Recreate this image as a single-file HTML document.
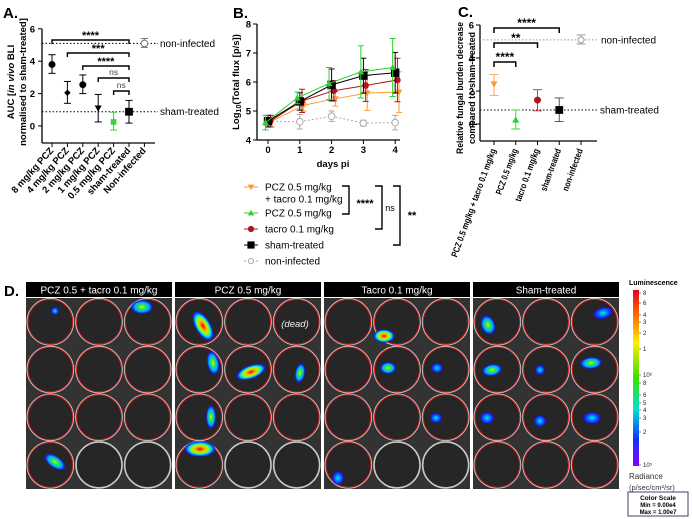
<!DOCTYPE html>
<html><head><meta charset="utf-8">
<style>
html,body{margin:0;padding:0;background:#fff;}
svg{display:block;font-family:"Liberation Sans",Arial,sans-serif;}
</style></head>
<body>
<svg id="fig" width="692" height="519" viewBox="0 0 692 519" xmlns="http://www.w3.org/2000/svg">
<defs>
<linearGradient id="cbar" x1="0" y1="0" x2="0" y2="1">
<stop offset="0" stop-color="#e8001a"/><stop offset="0.18" stop-color="#ff8a00"/><stop offset="0.3" stop-color="#ffee00"/><stop offset="0.5" stop-color="#3de000"/><stop offset="0.68" stop-color="#00e0d0"/><stop offset="0.85" stop-color="#1030ff"/><stop offset="1" stop-color="#8a00ff"/>
</linearGradient>
<radialGradient id="blobHot"><stop offset="0" stop-color="#e00010"/><stop offset="0.3" stop-color="#ffb000"/><stop offset="0.5" stop-color="#a0ff00"/><stop offset="0.7" stop-color="#00e0e0"/><stop offset="0.88" stop-color="#1020ff"/><stop offset="1" stop-color="#1020ff" stop-opacity="0"/></radialGradient>
<radialGradient id="blobMid"><stop offset="0" stop-color="#c0ff00"/><stop offset="0.35" stop-color="#20e060"/><stop offset="0.65" stop-color="#00b0ff"/><stop offset="0.88" stop-color="#1020ff"/><stop offset="1" stop-color="#1020ff" stop-opacity="0"/></radialGradient>
<radialGradient id="blobLow"><stop offset="0" stop-color="#00f0e0"/><stop offset="0.5" stop-color="#0070ff"/><stop offset="0.85" stop-color="#2010ff"/><stop offset="1" stop-color="#2010ff" stop-opacity="0"/></radialGradient>
</defs>

<text x="3" y="18" font-size="15" font-weight="bold">A.</text>
<text x="233" y="18" font-size="15" font-weight="bold">B.</text>
<text x="458" y="17" font-size="15" font-weight="bold">C.</text>
<text x="4" y="296" font-size="15" font-weight="bold">D.</text>

<text transform="translate(14,82) rotate(-90)" font-size="9.5" font-weight="bold" text-anchor="middle">AUC [<tspan font-style="italic">in vivo</tspan> BLI</text>
<text transform="translate(239,82) rotate(-90)" font-size="9.5" font-weight="bold" text-anchor="middle">Log<tspan font-size="7" dy="2">10</tspan><tspan dy="-2">(Total flux [p/s])</tspan></text>

<g id="gA"></g>
<g id="gB"></g>
<g id="gC"></g>
<g id="gD"></g>

<g>
<text x="629" y="285" font-size="7" font-weight="bold">Luminescence</text>
<rect x="633" y="290" width="6" height="176" fill="url(#cbar)"/>
<g id="cbticks" font-size="6" fill="#222"></g>
<text x="629" y="479" font-size="8" fill="#333">Radiance</text>
<text x="629" y="490" font-size="7.5" fill="#333">(p/sec/cm²/sr)</text>
<rect x="628" y="492" width="60" height="24" fill="#fff" stroke="#3a4a6a" stroke-width="1"/>
<text x="658" y="500" font-size="6.5" font-weight="bold" text-anchor="middle">Color Scale</text>
<text x="658" y="507" font-size="6" font-weight="bold" text-anchor="middle">Min = 9.00e4</text>
<text x="658" y="514" font-size="6" font-weight="bold" text-anchor="middle">Max = 1.00e7</text>
</g>

<script>
// ---------- Panel A data ----------
const catsA = ['8 mg/kg PCZ','4 mg/kg PCZ','2 mg/kg PCZ','1 mg/kg PCZ','0.5 mg/kg PCZ','sham-treated','Non-infected'];
const meanA = [3.8, 2.05, 2.55, 1.1, 0.25, 0.88, 5.1];
const lowA  = [3.25, 1.4, 2.0, 0.25, -0.25, 0.18, 4.85];
const highA = [4.4, 2.75, 3.15, 1.95, 0.85, 1.58, 5.4];
const ticksA = [0, 2, 4, 6];
const sigA = ['****','***','****','ns','ns'];
const sigAFrom = [0, 1, 2, 3, 4];

// ---------- Panel B data ----------
const daysB = [0, 1, 2, 3, 4];
const ticksBx = [0, 1, 2, 3, 4];
const ticksBy = [4, 5, 6, 7, 8];
const orangeMean = [4.65, 5.2, 5.42, 5.62, 5.65];
const orangeErr  = [0.2, 0.2, 0.25, 0.6, 0.7];
const greenMean  = [4.6, 5.45, 5.95, 6.35, 6.5];
const greenErr   = [0.25, 0.2, 0.55, 0.9, 1.0];
const redMean    = [4.65, 5.35, 5.7, 5.88, 6.07];
const redErr     = [0.2, 0.4, 0.35, 0.55, 0.75];
const blackMean  = [4.65, 5.33, 5.9, 6.22, 6.32];
const blackErr   = [0.2, 0.3, 0.55, 0.6, 0.7];
const greyMean   = [4.65, 4.63, 4.82, 4.58, 4.6];
const greyErr    = [0.2, 0.25, 0.18, 0.1, 0.25];

// ---------- Panel C data ----------
const catsC = ['PCZ 0.5 mg/kg + tacro 0.1 mg/kg','PCZ 0.5 mg/kg','tacro 0.1 mg/kg','sham-treated','non-infected'];
const meanC = [2.42, 0.25, 1.45, 0.85, 5.1];
const lowC  = [1.73, -0.3, 0.8, 0.15, 4.85];
const highC = [3.0, 0.85, 2.08, 1.58, 5.4];
const ticksC = [0, 2, 4, 6];
const sigC = ['****','**','****'];
const sigCTo = [3, 2, 1];

const NS = 'http://www.w3.org/2000/svg';
function mk(tag, attrs, parent){
  const e = document.createElementNS(NS, tag);
  for (const k in attrs) e.setAttribute(k, attrs[k]);
  parent.appendChild(e);
  return e;
}
function marker(g, shape, cx, cy, s, fill, stroke){
  let e;
  if (shape==='circle') e = mk('circle',{cx:cx,cy:cy,r:s,fill:fill,stroke:stroke,'stroke-width':1},g);
  else if (shape==='square') e = mk('rect',{x:cx-s,y:cy-s,width:2*s,height:2*s,fill:fill,stroke:stroke,'stroke-width':0.8},g);
  else if (shape==='down') e = mk('polygon',{points:`${cx-s},${cy-s*0.8} ${cx+s},${cy-s*0.8} ${cx},${cy+s}`,fill:fill,stroke:stroke,'stroke-width':0.6},g);
  else if (shape==='up') e = mk('polygon',{points:`${cx-s},${cy+s*0.8} ${cx+s},${cy+s*0.8} ${cx},${cy-s}`,fill:fill,stroke:stroke,'stroke-width':0.6},g);
  else if (shape==='diamond') e = mk('polygon',{points:`${cx},${cy-s} ${cx+s},${cy} ${cx},${cy+s} ${cx-s},${cy}`,fill:fill,stroke:stroke,'stroke-width':0.6},g);
  return e;
}
function errbar(g, x, y1, y2, col, cap){
  mk('line',{x1:x,y1:y1,x2:x,y2:y2,stroke:col,'stroke-width':1},g);
  mk('line',{x1:x-cap,y1:y1,x2:x+cap,y2:y1,stroke:col,'stroke-width':1},g);
  mk('line',{x1:x-cap,y1:y2,x2:x+cap,y2:y2,stroke:col,'stroke-width':1},g);
}

// ================= Panel A =================
(function(){
  const g = document.getElementById('gA');
  const yA = v => 126 - v*16.2;
  const xA = i => 52 + i*15.4;
  const ax = mk('line',{x1:42,y1:yA(6),x2:42,y2:143,stroke:'#000','stroke-width':1.3},g);
  
  
  const bx = mk('line',{x1:42,y1:143,x2:155,y2:143,stroke:'#000','stroke-width':1.3},g);
  
  
  ticksA.forEach(t=>{
    mk('line',{x1:38,y1:yA(t),x2:42,y2:yA(t),stroke:'#000','stroke-width':1},g);
    const tl = mk('text',{x:35,y:yA(t)+3.5,'font-size':9.5,'font-weight':'bold','text-anchor':'end'},g);
    tl.textContent = t;
    
    
  });
  const t2 = mk('text',{transform:'translate(26,82) rotate(-90)','font-size':9.5,'font-weight':'bold','text-anchor':'middle'},g);
  t2.textContent = 'normalised to sham-treated]';
  
  
  const r1 = mk('line',{x1:42,y1:yA(meanA[6]),x2:158,y2:yA(meanA[6]),stroke:'#000','stroke-width':1,'stroke-dasharray':'1.5,2'},g);
  
  
  const r2 = mk('line',{x1:42,y1:yA(meanA[5]),x2:158,y2:yA(meanA[5]),stroke:'#000','stroke-width':1,'stroke-dasharray':'1.5,2'},g);
  
  
  const l1 = mk('text',{x:160,y:yA(meanA[6])+3.5,'font-size':10},g);
  l1.textContent='non-infected';
  
  
  const l2 = mk('text',{x:160,y:yA(meanA[5])+3.5,'font-size':10},g);
  l2.textContent='sham-treated';
  
  
  const shapes = ['circle','diamond','circle','down','square','square','circle'];
  const sizes = [3,2.8,3,3,2.4,3.5,3.3];
  const cols = ['#000','#000','#000','#000','#3ccc3c','#000','#777'];
  catsA.forEach((c,i)=>{
    const x = xA(i);
    mk('line',{x1:x,y1:143,x2:x,y2:147,stroke:'#000','stroke-width':1},g);
    errbar(g, x, yA(lowA[i]), yA(highA[i]), cols[i], 3.5);
    const m = marker(g, shapes[i], x, yA(meanA[i]), sizes[i], i===6?'#fff':cols[i], cols[i]);
    
    
    const lab = mk('text',{x:x+2,y:151,'font-size':9.5,'font-weight':'bold','text-anchor':'end',transform:`rotate(-48 ${x+2} 151)`},g);
    lab.textContent = c;
    
    
  });
  const yTop = [40, 53, 66, 78, 91];
  sigA.forEach((s,k)=>{
    const x1 = xA(sigAFrom[k]), x2 = xA(5), y = yTop[k];
    const p = mk('path',{d:`M${x1},${y+4} V${y} H${x2} V${y+4}`,fill:'none',stroke:'#000','stroke-width':1.4},g);
    
    
    const st = mk('text',{x:(x1+x2)/2,y:s==='ns'?y-3:y-1,'font-size':s==='ns'?8.5:11,'font-weight':s==='ns'?'normal':'bold','text-anchor':'middle',fill:s==='ns'?'#444':'#000'},g);
    st.textContent = s;
    
    
  });
})();

// ================= Panel B =================
(function(){
  const g = document.getElementById('gB');
  const xB = d => 268 + d*31.8;
  const yB = v => 140 - (v-4)*29;
  const ay = mk('line',{x1:257,y1:yB(8),x2:257,y2:140,stroke:'#000','stroke-width':1.3},g);
  
  
  const axx = mk('line',{x1:257,y1:140,x2:400,y2:140,stroke:'#000','stroke-width':1.3},g);
  
  
  ticksBy.forEach(t=>{
    mk('line',{x1:253,y1:yB(t),x2:257,y2:yB(t),stroke:'#000','stroke-width':1},g);
    const tl = mk('text',{x:251,y:yB(t)+3.5,'font-size':9.5,'font-weight':'bold','text-anchor':'end'},g);
    tl.textContent=t;
    
    
  });
  ticksBx.forEach(t=>{
    mk('line',{x1:xB(t),y1:140,x2:xB(t),y2:144,stroke:'#000','stroke-width':1},g);
    const tl = mk('text',{x:xB(t),y:153,'font-size':9.5,'font-weight':'bold','text-anchor':'middle'},g);
    tl.textContent=t;
    
    
  });
  const xt = mk('text',{x:333,y:167,'font-size':9.5,'font-weight':'bold','text-anchor':'middle'},g);
  xt.textContent='days pi';
  
  

  const series = [
    {name:'grey', m:greyMean, e:greyErr, col:'#aaa', shape:'circle', fill:'#fff', s:3.3, off:0, dash:'2,2'},
    {name:'orange', m:orangeMean, e:orangeErr, col:'#ff9a30', shape:'down', fill:'#ff9a30', s:2.8, off:0.12, dash:''},
    {name:'red', m:redMean, e:redErr, col:'#b0141e', shape:'circle', fill:'#b0141e', s:2.8, off:0.07, dash:''},
    {name:'black', m:blackMean, e:blackErr, col:'#000', shape:'square', fill:'#000', s:3.8, off:0, dash:''},
    {name:'green', m:greenMean, e:greenErr, col:'#2ed02e', shape:'up', fill:'#2ed02e', s:2.8, off:-0.08, dash:''}
  ];
  series.forEach(sr=>{
    const pts = daysB.map((d,i)=>`${xB(d+sr.off)},${yB(sr.m[i])}`).join(' ');
    const pl = mk('polyline',{points:pts,fill:'none',stroke:sr.col,'stroke-width':1,'stroke-dasharray':sr.dash},g);
    
    
    daysB.forEach((d,i)=>{
      const x = xB(d+sr.off);
      errbar(g, x, yB(sr.m[i]-sr.e[i]), yB(sr.m[i]+sr.e[i]), sr.col, 3);
      const m = marker(g, sr.shape, x, yB(sr.m[i]), sr.s, sr.fill, sr.col);
      
      
    });
  });
  const leg = [
    {y:187, col:'#ff9a30', shape:'down', fill:'#ff9a30', lines:['PCZ 0.5 mg/kg','+ tacro 0.1 mg/kg'], dash:''},
    {y:213, col:'#2ed02e', shape:'up', fill:'#2ed02e', lines:['PCZ 0.5 mg/kg'], dash:''},
    {y:229, col:'#b0141e', shape:'circle', fill:'#b0141e', lines:['tacro 0.1 mg/kg'], dash:''},
    {y:245, col:'#000', shape:'square', fill:'#000', lines:['sham-treated'], dash:''},
    {y:261, col:'#aaa', shape:'circle', fill:'#fff', lines:['non-infected'], dash:'2,2'}
  ];
  leg.forEach(L=>{
    const ln = mk('line',{x1:244,y1:L.y,x2:258,y2:L.y,stroke:L.col,'stroke-width':1,'stroke-dasharray':L.dash},g);
    
    
    const m = marker(g, L.shape, 251, L.y, L.shape==='square'?3.2:2.6, L.fill, L.col);
    
    
    L.lines.forEach((t,k)=>{
      const tx = mk('text',{x:265,y:L.y+3.5+k*12,'font-size':10},g);
      tx.textContent=t;
      
      
    });
  });
  const br = [
    {x:349, y1:186, y2:214, lab:'****', lx:365, ly:207, fs:11, fw:'bold'},
    {x:382, y1:186, y2:229, lab:'ns', lx:390, ly:211, fs:9, fw:'normal'},
    {x:400, y1:186, y2:245, lab:'**', lx:412, ly:219, fs:11, fw:'bold'}
  ];
  br.forEach(b=>{
    const p = mk('path',{d:`M${b.x-7},${b.y1} H${b.x} V${b.y2} H${b.x-7}`,fill:'none',stroke:'#000','stroke-width':1.4},g);
    
    
    const t = mk('text',{x:b.lx,y:b.ly,'font-size':b.fs,'font-weight':b.fw,'text-anchor':'middle'},g);
    t.textContent=b.lab;
    
    
  });
})();

// ================= Panel C =================
(function(){
  const g = document.getElementById('gC');
  const yC = v => 124 - v*16.5;
  const xC = i => 494 + i*21.75;
  const ay = mk('line',{x1:480,y1:yC(6),x2:480,y2:141,stroke:'#000','stroke-width':1.3},g);
  
  
  const axx = mk('line',{x1:480,y1:141,x2:597,y2:141,stroke:'#000','stroke-width':1.3},g);
  
  
  ticksC.forEach(t=>{
    mk('line',{x1:476,y1:yC(t),x2:480,y2:yC(t),stroke:'#000','stroke-width':1},g);
    const tl = mk('text',{x:474,y:yC(t)+3.5,'font-size':9.5,'font-weight':'bold','text-anchor':'end'},g);
    tl.textContent=t;
    
    
  });
  const t1 = mk('text',{transform:'translate(463,88) rotate(-90)','font-size':9,'font-weight':'bold','text-anchor':'middle',textLength:132,lengthAdjust:'spacingAndGlyphs'},g);
  t1.textContent='Relative fungal burden decrease';
  
  
  const t2 = mk('text',{transform:'translate(475,88) rotate(-90)','font-size':9,'font-weight':'bold','text-anchor':'middle',textLength:112,lengthAdjust:'spacingAndGlyphs'},g);
  t2.textContent='compared to sham-treated';
  
  
  const r1 = mk('line',{x1:480,y1:yC(meanC[4]),x2:597,y2:yC(meanC[4]),stroke:'#999','stroke-width':1,'stroke-dasharray':'1.5,2'},g);
  
  
  const r2 = mk('line',{x1:480,y1:yC(meanC[3]),x2:597,y2:yC(meanC[3]),stroke:'#000','stroke-width':1,'stroke-dasharray':'1.5,2'},g);
  
  
  const l1 = mk('text',{x:601,y:yC(meanC[4])+3.5,'font-size':10},g);
  l1.textContent='non-infected';
  
  
  const l2 = mk('text',{x:600,y:yC(meanC[3])+3.5,'font-size':10},g);
  l2.textContent='sham-treated';
  
  
  const shapes = ['down','up','circle','square','circle'];
  const cols = ['#ff9a30','#2ed02e','#b0141e','#000','#999'];
  const errc = ['#ffa860','#3ad83a','#d04040','#555','#999'];
  catsC.forEach((c,i)=>{
    const x = xC(i);
    mk('line',{x1:x,y1:141,x2:x,y2:145,stroke:'#000','stroke-width':1},g);
    errbar(g, x, yC(lowC[i]), yC(highC[i]), errc[i], 4.5);
    const m = marker(g, shapes[i], x, yC(meanC[i]), i===3?3.5:3, i===4?'#fff':cols[i], cols[i]);
    
    
    const lab = mk('text',{x:x+2,y:150,'font-size':9,'font-weight':'bold','text-anchor':'end',transform:`rotate(-70 ${x+2} 150)`,textLength:c.length*3.7,lengthAdjust:'spacingAndGlyphs'},g);
    lab.textContent=c;
    
    
  });
  const yTop = [28, 43, 62];
  sigC.forEach((s,k)=>{
    const x1 = xC(0), x2 = xC(sigCTo[k]), y = yTop[k];
    const p = mk('path',{d:`M${x1},${y+5} V${y} H${x2} V${y+5}`,fill:'none',stroke:'#000','stroke-width':1.5},g);
    
    
    const t = mk('text',{x:(x1+x2)/2,y:y-1,'font-size':12,'font-weight':'bold','text-anchor':'middle'},g);
    t.textContent=s;
    
    
  });
})();

// ================= Panel D =================
(function(){
  const g = document.getElementById('gD');
  const panelX = [26, 175, 324, 473];
  const titles = ['PCZ 0.5 + tacro 0.1 mg/kg','PCZ 0.5 mg/kg','Tacro 0.1 mg/kg','Sham-treated'];
  const W = 146, top = 298, rowH = 47.7;
  const redRows = [[3,3,3,1],[3,3,3,1],[3,3,3,1],[3,3,3,3]];
  panelX.forEach((px,p)=>{
    const h = mk('rect',{x:px,y:282,width:W,height:15,fill:'#000'},g);
    
    
    const ht = mk('text',{x:px+W/2,y:293.5,'font-size':10,fill:'#fff','text-anchor':'middle'},g);
    ht.textContent = titles[p];
    
    
    const bg = mk('rect',{x:px,y:top,width:W,height:191,fill:'#333'},g);
    
    
    for (let r=0;r<4;r++){
      for (let c=0;c<3;c++){
        const cx = px + W/6 + c*W/3, cy = top + rowH/2 + r*rowH;
        const w = mk('circle',{cx:cx,cy:cy,r:23,fill:'#262626',stroke:'#c8c8c8','stroke-width':1.6},g);
        
        
        if (c < redRows[p][r]){
          mk('circle',{cx:cx,cy:cy,r:22.5,fill:'none',stroke:'#d01818','stroke-width':0.9},g);
        }
      }
    }
  });
  const dead = mk('text',{x:295,y:327,'font-size':9.5,fill:'#eee','font-style':'italic','text-anchor':'middle'},g);
  dead.textContent='(dead)';
  
  
  const blobs = [
    [55,311,4,4,0,'blobLow'],[142,307,11,7,0,'blobMid'],[55,462,12,6,35,'blobMid'],
    [203,326,8,17,-30,'blobHot'],[213,363,6,12,-10,'blobMid'],[251,372,16,7,-20,'blobHot'],
    [300,373,5,10,10,'blobMid'],[211,417,5,12,0,'blobMid'],[200,449,16,8,0,'blobHot'],
    [384,336,11,7,0,'blobHot'],[388,368,8,6,0,'blobMid'],[437,368,6,5,0,'blobLow'],
    [436,418,6,5,0,'blobLow'],[338,478,6,7,0,'blobLow'],
    [488,325,7,10,-20,'blobMid'],[603,313,10,6,-15,'blobLow'],[492,370,10,6,-10,'blobMid'],
    [540,370,5,5,0,'blobLow'],[591,363,11,6,-5,'blobMid'],[487,418,7,6,0,'blobLow'],
    [540,421,6,6,0,'blobLow'],[592,418,9,6,0,'blobLow']
  ];
  blobs.forEach(b=>{
    const e = mk('ellipse',{cx:b[0],cy:b[1],rx:b[2],ry:b[3],fill:`url(#${b[5]})`,transform:`rotate(${b[4]} ${b[0]} ${b[1]})`},g);
    
    
  });
})();

(function(){
  const g = document.getElementById('cbticks');
  const labs = ['8','6','4','3','2','1','10⁶','8','6','5','4','3','2','10⁵'];
  const ys = [293,303,315,322,333,349,375,383,395,403,410,418,432,465];
  labs.forEach((l,i)=>{
    mk('line',{x1:639,y1:ys[i],x2:641,y2:ys[i],stroke:'#333','stroke-width':0.6},g);
    const t = mk('text',{x:643,y:ys[i]+2},g);
    t.textContent=l;
    
    
  });
})();
</script>
</svg>
</body></html>
